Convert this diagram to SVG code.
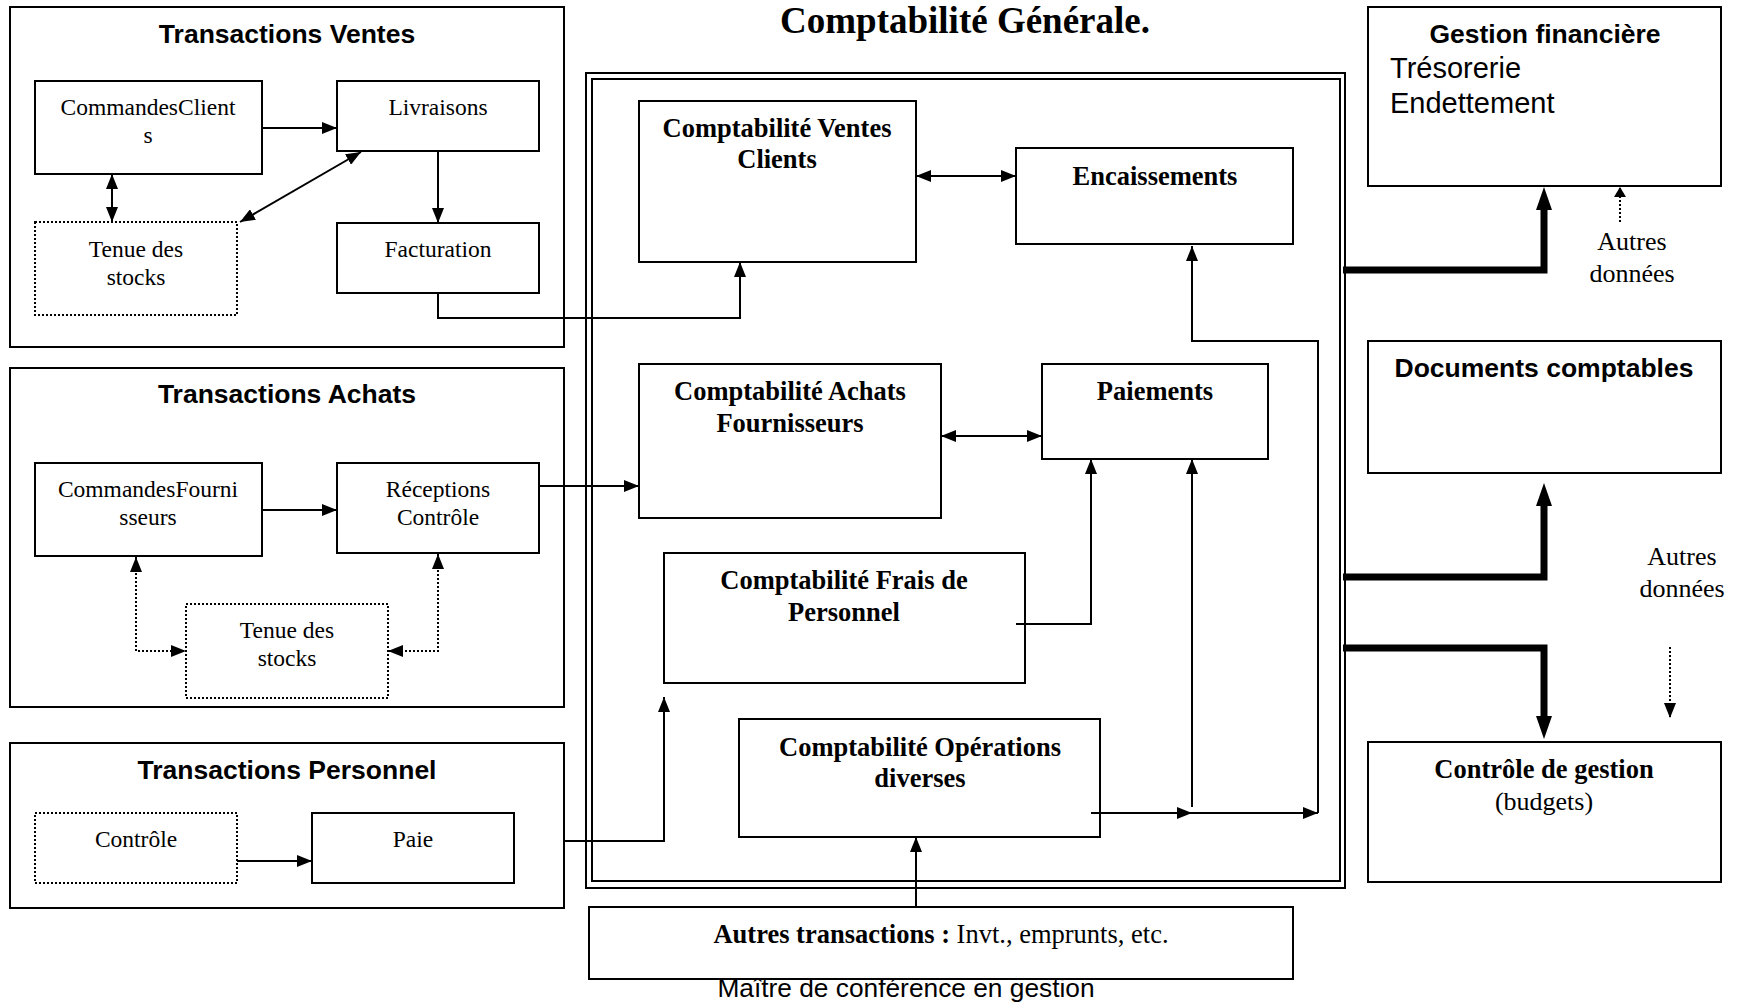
<svg xmlns="http://www.w3.org/2000/svg" width="1742" height="1002" viewBox="0 0 1742 1002">
<style>
.box{fill:none;stroke:#000;stroke-width:2}
.dbox{fill:none;stroke:#000;stroke-width:2;stroke-dasharray:2 2}
.ln{fill:none;stroke:#000;stroke-width:2}
.dl{fill:none;stroke:#000;stroke-width:2;stroke-dasharray:2 2}
.thk{fill:none;stroke:#000;stroke-width:7;stroke-linejoin:miter}
.t{font-family:"Liberation Serif","Times New Roman",serif;font-size:23.5px;text-anchor:middle}
.tb{font-family:"Liberation Serif","Times New Roman",serif;font-size:26.5px;font-weight:bold;text-anchor:middle}
.tr{font-family:"Liberation Serif","Times New Roman",serif;font-size:26px;text-anchor:middle}
.ab{font-family:"Liberation Sans",Arial,sans-serif;font-size:26.5px;font-weight:bold;text-anchor:middle}
.ar{font-family:"Liberation Sans",Arial,sans-serif;font-size:29px}
</style>
<defs>
<marker id="a" viewBox="0 0 15 12" refX="15" refY="6" markerWidth="15" markerHeight="12" markerUnits="userSpaceOnUse" orient="auto-start-reverse"><path d="M0,0 L15,6 L0,12 z" fill="#000"/></marker>
<marker id="t" viewBox="0 0 23 16" refX="0" refY="8" markerWidth="23" markerHeight="16" markerUnits="userSpaceOnUse" orient="auto"><path d="M0,0 L23,8 L0,16 z" fill="#000"/></marker>
<marker id="s" viewBox="0 0 10 12" refX="10" refY="6" markerWidth="10" markerHeight="12" markerUnits="userSpaceOnUse" orient="auto"><path d="M0,0 L10,6 L0,12 z" fill="#000"/></marker>
</defs>
<rect width="1742" height="1002" fill="#fff"/>

<g id="transactions-ventes">
<rect class="box" x="10" y="7" width="554" height="340"/>
<text class="ab" x="287" y="43">Transactions Ventes</text>
</g>
<g id="commandes-clients">
<rect class="box" x="35" y="81" width="227" height="93"/>
<text class="t" x="148" y="115">CommandesClient</text>
<text class="t" x="148" y="143">s</text>
</g>
<g id="livraisons">
<rect class="box" x="337" y="81" width="202" height="70"/>
<text class="t" x="438" y="115">Livraisons</text>
</g>
<g id="tenue-stocks-ventes">
<rect class="dbox" x="35" y="222" width="202" height="93"/>
<text class="t" x="136" y="257">Tenue des</text>
<text class="t" x="136" y="285">stocks</text>
</g>
<g id="facturation">
<rect class="box" x="337" y="223" width="202" height="70"/>
<text class="t" x="438" y="257">Facturation</text>
</g>

<g id="transactions-achats">
<rect class="box" x="10" y="368" width="554" height="339"/>
<text class="ab" x="287" y="403">Transactions Achats</text>
</g>
<g id="commandes-fournisseurs">
<rect class="box" x="35" y="463" width="227" height="93"/>
<text class="t" x="148" y="497">CommandesFourni</text>
<text class="t" x="148" y="525">sseurs</text>
</g>
<g id="receptions-controle">
<rect class="box" x="337" y="463" width="202" height="90"/>
<text class="t" x="438" y="497">Réceptions</text>
<text class="t" x="438" y="525">Contrôle</text>
</g>
<g id="tenue-stocks-achats">
<rect class="dbox" x="186" y="604" width="202" height="94"/>
<text class="t" x="287" y="638">Tenue des</text>
<text class="t" x="287" y="666">stocks</text>
</g>

<g id="transactions-personnel">
<rect class="box" x="10" y="743" width="554" height="165"/>
<text class="ab" x="287" y="779">Transactions Personnel</text>
</g>
<g id="controle-personnel">
<rect class="dbox" x="35" y="813" width="202" height="70"/>
<text class="t" x="136" y="847">Contrôle</text>
</g>
<g id="paie">
<rect class="box" x="312" y="813" width="202" height="70"/>
<text class="t" x="413" y="847">Paie</text>
</g>

<g id="comptabilite-generale">
<text class="tb" x="965" y="33" style="font-size:37px">Comptabilité Générale.</text>
<rect class="box" x="586" y="73" width="759" height="815"/>
<rect class="box" x="592" y="79" width="748" height="802"/>
</g>
<g id="compta-ventes-clients">
<rect class="box" x="639" y="101" width="277" height="161"/>
<text class="tb" x="777" y="137">Comptabilité Ventes</text>
<text class="tb" x="777" y="168">Clients</text>
</g>
<g id="encaissements">
<rect class="box" x="1016" y="148" width="277" height="96"/>
<text class="tb" x="1155" y="185">Encaissements</text>
</g>
<g id="compta-achats-fournisseurs">
<rect class="box" x="639" y="364" width="302" height="154"/>
<text class="tb" x="790" y="400">Comptabilité Achats</text>
<text class="tb" x="790" y="432">Fournisseurs</text>
</g>
<g id="paiements">
<rect class="box" x="1042" y="364" width="226" height="95"/>
<text class="tb" x="1155" y="400">Paiements</text>
</g>
<g id="compta-frais-personnel">
<rect class="box" x="664" y="553" width="361" height="130"/>
<text class="tb" x="844" y="589">Comptabilité Frais de</text>
<text class="tb" x="844" y="621">Personnel</text>
</g>
<g id="compta-operations-diverses">
<rect class="box" x="739" y="719" width="361" height="118"/>
<text class="tb" x="920" y="756">Comptabilité Opérations</text>
<text class="tb" x="920" y="787">diverses</text>
</g>

<g id="autres-transactions">
<rect class="box" x="589" y="907" width="704" height="72"/>
<text class="tr" x="941" y="943" style="font-size:26.5px"><tspan font-weight="bold">Autres transactions :</tspan> Invt., emprunts, etc.</text>
</g>
<text x="906" y="997" style="font-family:'Liberation Sans',Arial,sans-serif;font-size:26.3px;text-anchor:middle">Maître de conférence en gestion</text>

<g id="gestion-financiere">
<rect class="box" x="1368" y="7" width="353" height="179"/>
<text class="ab" x="1545" y="43">Gestion financière</text>
<text class="ar" x="1390" y="78">Trésorerie</text>
<text class="ar" x="1390" y="113">Endettement</text>
</g>
<g id="documents-comptables">
<rect class="box" x="1368" y="341" width="353" height="132"/>
<text class="ab" x="1544" y="377">Documents comptables</text>
</g>
<g id="controle-gestion">
<rect class="box" x="1368" y="742" width="353" height="140"/>
<text class="tb" x="1544" y="778">Contrôle de gestion</text>
<text class="tr" x="1544" y="810">(budgets)</text>
</g>
<g id="autres-donnees-1">
<text class="tr" x="1632" y="250">Autres</text>
<text class="tr" x="1632" y="282">données</text>
</g>
<g id="autres-donnees-2">
<text class="tr" x="1682" y="565">Autres</text>
<text class="tr" x="1682" y="597">données</text>
</g>

<g id="connectors">
<path class="ln" d="M262,128 H337" marker-end="url(#a)"/>
<path class="ln" d="M112,174 V222" marker-start="url(#a)" marker-end="url(#a)"/>
<path class="ln" d="M240,222 L361,152" marker-start="url(#a)" marker-end="url(#a)"/>
<path class="ln" d="M438,151 V223" marker-end="url(#a)"/>
<path class="ln" d="M438,293 V318 H740 V262" marker-end="url(#a)"/>
<path class="ln" d="M262,510 H337" marker-end="url(#a)"/>
<path class="dl" d="M136,557 V651 H186" marker-start="url(#a)" marker-end="url(#a)"/>
<path class="dl" d="M438,554 V651 H388" marker-start="url(#a)" marker-end="url(#a)"/>
<path class="ln" d="M237,861 H312" marker-end="url(#a)"/>
<path class="ln" d="M539,486 H639" marker-end="url(#a)"/>
<path class="ln" d="M564,841 H664 V697" marker-end="url(#a)"/>
<path class="ln" d="M916,176 H1016" marker-start="url(#a)" marker-end="url(#a)"/>
<path class="ln" d="M941,436 H1042" marker-start="url(#a)" marker-end="url(#a)"/>
<path class="ln" d="M1016,624 H1091 V459" marker-end="url(#a)"/>
<path class="ln" d="M1091,813 H1192" marker-end="url(#a)"/>
<path class="ln" d="M1192,813 H1318" marker-end="url(#a)"/>
<path class="ln" d="M1192,807 V459" marker-end="url(#a)"/>
<path class="ln" d="M1318,813 V341 H1192 V246" marker-end="url(#a)"/>
<path class="ln" d="M916,907 V837" marker-end="url(#a)"/>
<path class="thk" d="M1343,270 H1544 V210" marker-end="url(#t)"/>
<path class="thk" d="M1343,577 H1544 V506" marker-end="url(#t)"/>
<path class="thk" d="M1343,648 H1544 V716" marker-end="url(#t)"/>
<path class="dl" d="M1620,222 V187" marker-end="url(#s)"/>
<path class="dl" d="M1670,647 V718" marker-end="url(#a)"/>
</g>
</svg>
